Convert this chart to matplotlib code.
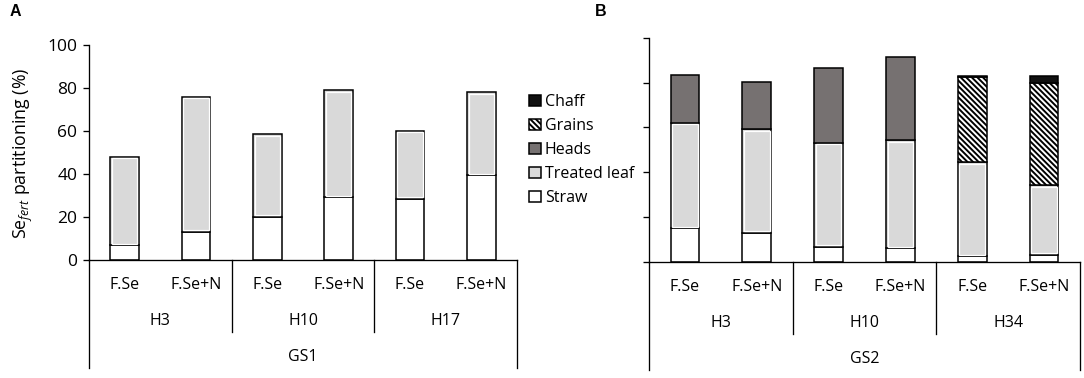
import numpy as np
import matplotlib.pyplot as plt
from matplotlib.patches import Patch
from matplotlib.transforms import blended_transform_factory

plt.rcParams['font.family'] = ['Open Sans', 'DejaVu Sans']
plt.rcParams['mathtext.fontset'] = 'custom'
plt.rcParams['mathtext.rm'] = 'Open Sans'
plt.rcParams['mathtext.it'] = 'Open Sans:italic'
plt.rcParams['hatch.linewidth'] = 1.4

# data
treatments = ['F.Se', 'F.Se+N'] * 3
groups_a = ['H3', 'H10', 'H17']
groups_b = ['H3', 'H10', 'H34']
stage_a = 'GS1'
stage_b = 'GS2'

# panel A segments (% of Se_fert)
straw_a = [6.8, 13.2, 20.0, 29.1, 28.4, 39.4]
leaf_a = [41.3, 62.8, 38.4, 49.8, 31.7, 38.6]

# panel B segments
straw_b = [15.0, 13.1, 6.8, 6.1, 2.5, 3.3]
leaf_b = [47.1, 46.0, 46.4, 48.1, 42.1, 30.9]
heads_b = [21.3, 21.3, 33.1, 37.3, 0.0, 0.0]
grains_b = [0.0, 0.0, 0.0, 0.0, 37.8, 45.5]
chaff_b = [0.0, 0.0, 0.0, 0.0, 0.5, 3.2]

W, H = 1084, 378
fig = plt.figure(figsize=(W / 100, H / 100), dpi=100)

ax_a = fig.add_axes([89 / W, 1 - 260 / H, 428 / W, 215 / H])
ax_b = fig.add_axes([649 / W, 1 - 262 / H, 431 / W, 224.3 / H])

LW = 1.1
BW = 0.4
FS = 11.5
seg_styles = {
    'Straw': dict(facecolor='white'),
    'Treated leaf': dict(facecolor='#d9d9d9'),
    'Heads': dict(facecolor='#767171'),
    'Grains': dict(facecolor='white', hatch='\\\\\\\\\\\\'),
    'Chaff': dict(facecolor='#111111'),
}


def stack(ax, segments):
    x = np.arange(len(segments[0][1]))
    bottom = np.zeros(len(x))
    for name, vals in segments:
        vals = np.asarray(vals)
        m = vals > 0
        ax.bar(x[m], vals[m], BW, bottom=bottom[m], edgecolor='black',
               linewidth=LW, zorder=2, **seg_styles[name])
        if name == 'Treated leaf':
            # white inner rim as in Excel
            px_y = 100 / (ax.get_position().height * H)
            dx, dy = 0.022, 1.6 * px_y
            ax.bar(x[m], vals[m] - 2 * dy, BW - 2 * dx, bottom=bottom[m] + dy,
                   facecolor='none', edgecolor='white', linewidth=0.9, zorder=3)
        bottom = bottom + vals


def cat_axis(ax, groups, stage):
    ax.set_xlim(-0.5, 5.5)
    ax.set_ylim(0, 100)
    ax.set_yticks(np.arange(0, 101, 20))
    for s in ['top', 'right']:
        ax.spines[s].set_visible(False)
    for s in ['left', 'bottom']:
        ax.spines[s].set_linewidth(0.95)
    ax.tick_params(axis='y', direction='out', length=4.3, width=0.95, labelsize=12.5, pad=4)
    ax.tick_params(axis='x', length=0, labelbottom=False)
    hpx = ax.get_position().height * H
    tr = blended_transform_factory(ax.transData, ax.transAxes)

    def fy(px):
        return -px / hpx

    for xb in [-0.5, 5.5]:
        ax.plot([xb, xb], [0, fy(108)], color='black', lw=0.95, transform=tr, clip_on=False)
    for xb in [1.5, 3.5]:
        ax.plot([xb, xb], [0, fy(72)], color='black', lw=0.95, transform=tr, clip_on=False)
    for i, t in enumerate(treatments):
        ax.text(i, fy(25), t, transform=tr, ha='center', va='center', fontsize=FS)
    for g, lab in enumerate(groups):
        ax.text(2 * g + 0.5, fy(61), lab, transform=tr, ha='center', va='center', fontsize=FS)
    ax.text(2.5, fy(97), stage, transform=tr, ha='center', va='center', fontsize=FS)


stack(ax_a, [('Straw', straw_a), ('Treated leaf', leaf_a)])
stack(ax_b, [('Straw', straw_b), ('Treated leaf', leaf_b), ('Heads', heads_b),
             ('Grains', grains_b), ('Chaff', chaff_b)])
cat_axis(ax_a, groups_a, stage_a)
cat_axis(ax_b, groups_b, stage_b)
ax_b.tick_params(axis='y', labelleft=False)

fig.text(23 / W, 1 - 153 / H, r'Se$_{\mathit{fert}}$ partitioning (%)', rotation=90,
         ha='center', va='center', fontsize=12.8)
fig.text(10 / W, 1 - 12 / H, 'A', fontweight='bold', fontsize=11.5, ha='left', va='center',
         family='Liberation Sans')
fig.text(595 / W, 1 - 12 / H, 'B', fontweight='bold', fontsize=11.5, ha='left', va='center',
         family='Liberation Sans')

names = ['Chaff', 'Grains', 'Heads', 'Treated leaf', 'Straw']
handles = [Patch(edgecolor='black', linewidth=LW, **seg_styles[n]) for n in names]
fig.legend(handles, names, loc='upper left', bbox_to_anchor=(529 / W, 1 - 94 / H),
           frameon=False, fontsize=FS, handlelength=0.75, handleheight=0.75,
           handletextpad=0.25, labelspacing=0.5, borderpad=0, borderaxespad=0)

fig.savefig('out.png', dpi=100)
